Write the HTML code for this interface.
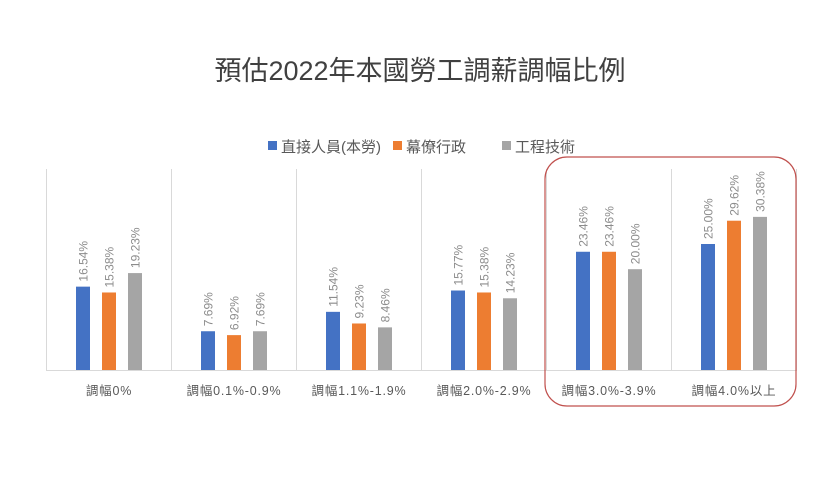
<!DOCTYPE html>
<html><head><meta charset="utf-8"><style>
body{margin:0;background:#fff;}
svg text{font-family:"Liberation Sans","Noto Sans CJK TC",sans-serif;}
</style></head><body>
<svg width="840" height="472" viewBox="0 0 840 472" xmlns="http://www.w3.org/2000/svg">
<rect width="840" height="472" fill="#fff"/>
<text x="420" y="80" text-anchor="middle" font-size="27" fill="#404040">預估2022年本國勞工調薪調幅比例</text>
<g font-size="15" fill="#595959">
<rect x="268" y="141" width="9" height="9" fill="#4472C4"/><text x="281" y="152">直接人員(本勞)</text>
<rect x="393" y="141" width="9" height="9" fill="#ED7D31"/><text x="406" y="152">幕僚行政</text>
<rect x="502" y="141" width="9" height="9" fill="#A5A5A5"/><text x="515" y="152">工程技術</text>
</g>
<g stroke="#d9d9d9" stroke-width="1">
<line x1="46.5" y1="169" x2="46.5" y2="370"/>
<line x1="171.5" y1="169" x2="171.5" y2="370"/>
<line x1="296.5" y1="169" x2="296.5" y2="370"/>
<line x1="421.5" y1="169" x2="421.5" y2="370"/>
<line x1="546.5" y1="169" x2="546.5" y2="370"/>
<line x1="671.5" y1="169" x2="671.5" y2="370"/>
<line x1="796.5" y1="169" x2="796.5" y2="370"/>
<line x1="46" y1="370.5" x2="797" y2="370.5"/>
</g>
<g>
<rect x="76" y="286.64" width="14" height="83.36" fill="#4472C4"/>
<rect x="102" y="292.48" width="14" height="77.52" fill="#ED7D31"/>
<rect x="128" y="273.08" width="14" height="96.92" fill="#A5A5A5"/>
<rect x="201" y="331.24" width="14" height="38.76" fill="#4472C4"/>
<rect x="227" y="335.12" width="14" height="34.88" fill="#ED7D31"/>
<rect x="253" y="331.24" width="14" height="38.76" fill="#A5A5A5"/>
<rect x="326" y="311.84" width="14" height="58.16" fill="#4472C4"/>
<rect x="352" y="323.48" width="14" height="46.52" fill="#ED7D31"/>
<rect x="378" y="327.36" width="14" height="42.64" fill="#A5A5A5"/>
<rect x="451" y="290.52" width="14" height="79.48" fill="#4472C4"/>
<rect x="477" y="292.48" width="14" height="77.52" fill="#ED7D31"/>
<rect x="503" y="298.28" width="14" height="71.72" fill="#A5A5A5"/>
<rect x="576" y="251.76" width="14" height="118.24" fill="#4472C4"/>
<rect x="602" y="251.76" width="14" height="118.24" fill="#ED7D31"/>
<rect x="628" y="269.2" width="14" height="100.8" fill="#A5A5A5"/>
<rect x="701" y="244" width="14" height="126" fill="#4472C4"/>
<rect x="727" y="220.72" width="14" height="149.28" fill="#ED7D31"/>
<rect x="753" y="216.88" width="14" height="153.12" fill="#A5A5A5"/>
</g>
<g font-size="12" fill="#8c8c8c">
<text transform="translate(87.5,281.6) rotate(-90)">16.54%</text>
<text transform="translate(113.5,287.5) rotate(-90)">15.38%</text>
<text transform="translate(139.5,268.1) rotate(-90)">19.23%</text>
<text transform="translate(212.5,326.2) rotate(-90)">7.69%</text>
<text transform="translate(238.5,330.1) rotate(-90)">6.92%</text>
<text transform="translate(264.5,326.2) rotate(-90)">7.69%</text>
<text transform="translate(337.5,306.8) rotate(-90)">11.54%</text>
<text transform="translate(363.5,318.5) rotate(-90)">9.23%</text>
<text transform="translate(389.5,322.4) rotate(-90)">8.46%</text>
<text transform="translate(462.5,285.5) rotate(-90)">15.77%</text>
<text transform="translate(488.5,287.5) rotate(-90)">15.38%</text>
<text transform="translate(514.5,293.3) rotate(-90)">14.23%</text>
<text transform="translate(587.5,246.8) rotate(-90)">23.46%</text>
<text transform="translate(613.5,246.8) rotate(-90)">23.46%</text>
<text transform="translate(639.5,264.2) rotate(-90)">20.00%</text>
<text transform="translate(712.5,239) rotate(-90)">25.00%</text>
<text transform="translate(738.5,215.7) rotate(-90)">29.62%</text>
<text transform="translate(764.5,211.9) rotate(-90)">30.38%</text>
</g>
<g font-size="12.5" fill="#595959" text-anchor="middle" letter-spacing="0.8">
<text x="109" y="395">調幅0%</text>
<text x="234" y="395">調幅0.1%-0.9%</text>
<text x="359" y="395">調幅1.1%-1.9%</text>
<text x="484" y="395">調幅2.0%-2.9%</text>
<text x="609" y="395">調幅3.0%-3.9%</text>
<text x="734" y="395">調幅4.0%以上</text>
</g>
<rect x="545" y="157" width="251" height="249" rx="22" fill="none" stroke="#C0504D" stroke-width="1.2"/>
</svg>
</body></html>
